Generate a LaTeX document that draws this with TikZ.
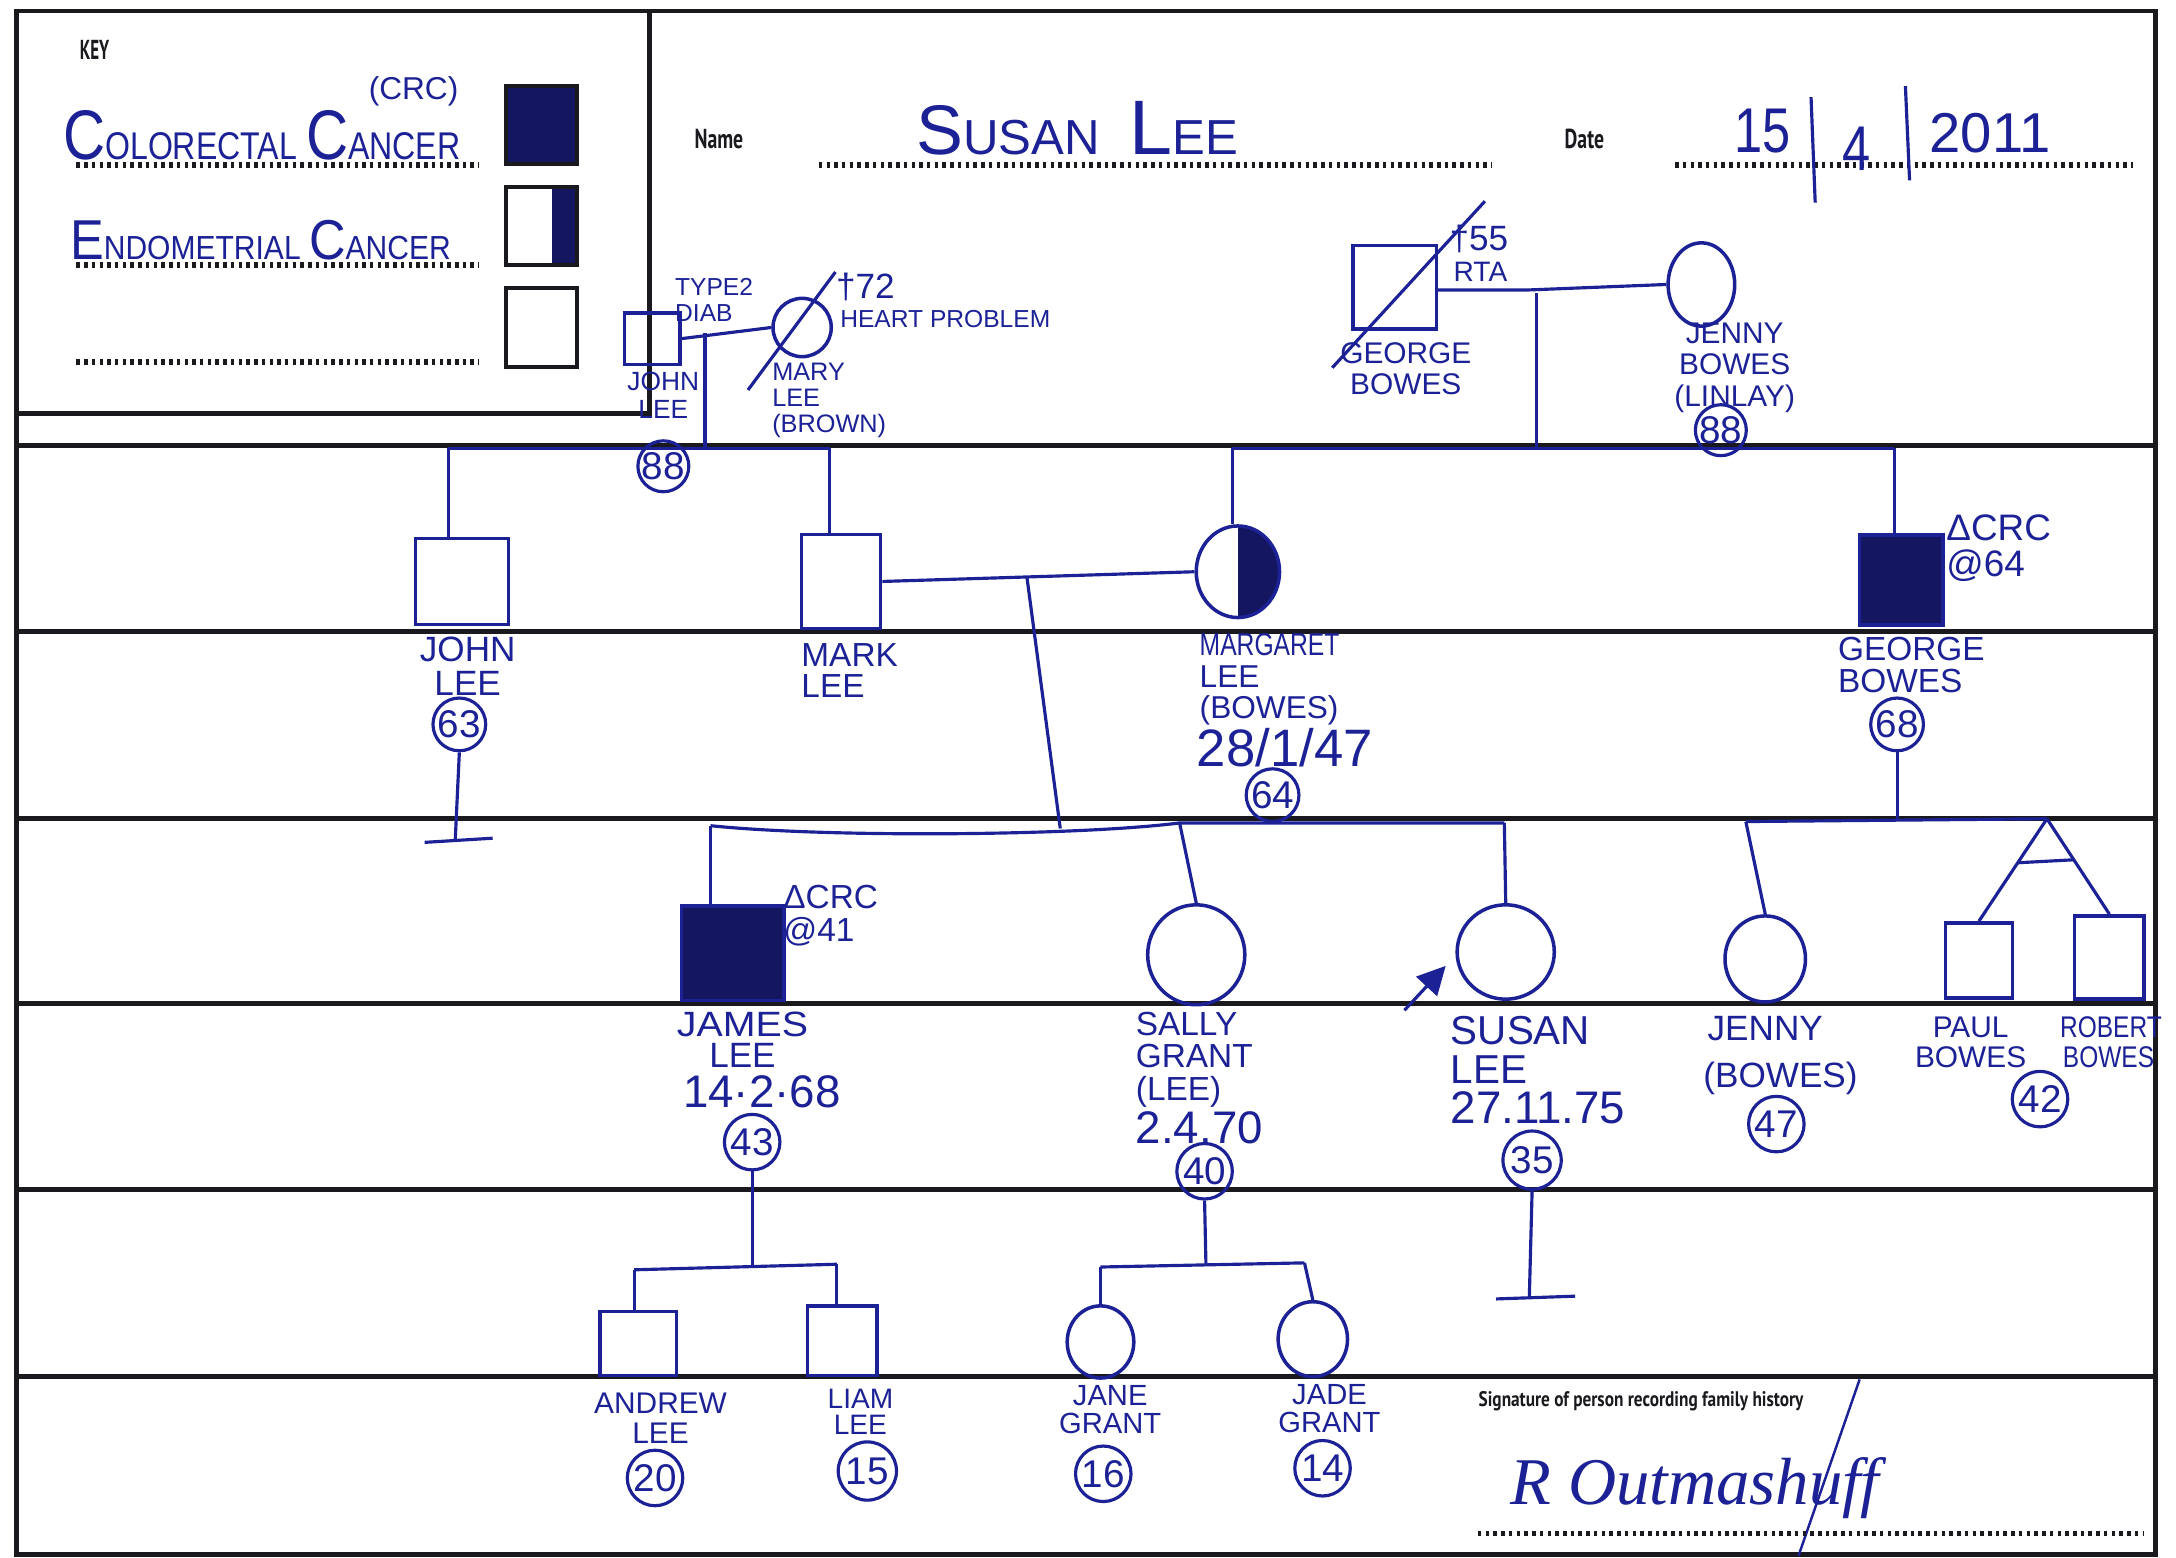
\documentclass[tikz,border=0pt]{standalone}
\usepackage{graphicx}
\usepackage{fontspec}
\setmainfont{Liberation Sans}
\newfontfamily\hand{Liberation Sans}
\newfontfamily\prnt{PT Sans}
\newfontfamily\sig{Liberation Serif}
\usetikzlibrary{shapes.geometric,arrows.meta,calc}
\definecolor{ink}{RGB}{28,34,150}
\definecolor{inkdark}{RGB}{20,22,95}
\definecolor{framec}{RGB}{25,25,30}
\def\pxu{0.013878cm}
\tikzset{
  rule/.style={draw=framec, line width=1.3pt},
  dotline/.style={draw=framec, line width=1.6pt, dash pattern=on 1pt off 1.2pt},
  lnk/.style={draw=ink, line width=0.9pt},
  sqbox/.style 2 args={rectangle, draw=ink, line width=1pt, inner sep=0pt, minimum width=#1*\pxu, minimum height=#2*\pxu},
  ovbox/.style 2 args={ellipse, draw=ink, line width=1pt, inner sep=0pt, minimum width=#1*\pxu, minimum height=#2*\pxu},
  aff/.style={fill=inkdark},
  keybox/.style={rectangle, draw=framec, line width=1.2pt, inner sep=0pt, minimum width=51*\pxu, minimum height=56*\pxu},
  age/.style={circle, draw=ink, line width=0.9pt, inner sep=0pt, minimum size=#1*\pxu, text=ink, font=\hand\fontsize{11}{11}\selectfont},
  lbl/.style 2 args={text=ink, inner sep=0pt, align=center, font=\hand\fontsize{#1}{#2}\selectfont},
  prt/.style={text=framec, inner sep=0pt, font=\prnt\bfseries\fontsize{7.8}{8}\selectfont},
  halfright/.style={path picture={\fill[inkdark] (path picture bounding box.north) rectangle (path picture bounding box.south east);}},
}
\begin{document}
\begin{tikzpicture}[x=0.013878cm, y=-0.013878cm]
\useasboundingbox (0,0) rectangle (1568,1122);
\fill[white] (0,0) rectangle (1568,1122);

% ---------- form frame ----------
\draw[rule] (12,8) rectangle (1553,1120);
\draw[rule] (468,8) -- (468,298) -- (12,298);
\foreach \yy in {321,455,590,723,857,992} \draw[rule] (12,\yy) -- (1553,\yy);

% ---------- key ----------
\node[prt, anchor=west] (keyt) at (57,36) {\scalebox{0.62}[1]{KEY}};
\node[text=ink, anchor=base west, inner sep=0pt] (crct) at (45,115) {\hand\scalebox{0.83}[1]{\fontsize{20}{20}\selectfont C\fontsize{11}{11}\selectfont OLORECTAL \fontsize{20}{20}\selectfont C\fontsize{11}{11}\selectfont ANCER}};
\node[lbl={9}{9}] (crcab) at (298,66) {(CRC)};
\node[text=ink, anchor=base west, inner sep=0pt] (endt) at (50,187) {\hand\scalebox{0.9}[1]{\fontsize{16}{16}\selectfont E\fontsize{9.5}{9.5}\selectfont NDOMETRIAL \fontsize{16}{16}\selectfont C\fontsize{9.5}{9.5}\selectfont ANCER}};
\draw[dotline] (55,119) -- (345,119);
\draw[dotline] (55,191) -- (345,191);
\draw[dotline] (55,261) -- (345,261);
\node[keybox, aff] (kb1) at (390,90) {};
\node[keybox, path picture={\fill[inkdark] ($(path picture bounding box.south east)!0.35!(path picture bounding box.south west)$) rectangle (path picture bounding box.north east);}] (kb2) at (390,163) {};
\node[keybox, minimum height=57*\pxu] (kb3) at (390,236) {};

% ---------- name / date ----------
\node[prt, anchor=west] (namel) at (500,100) {\scalebox{0.72}[1]{Name}};
\draw[dotline] (590,119) -- (1075,119);
\node[text=ink, anchor=base west, inner sep=0pt] (namev) at (660,111) {\hand\fontsize{20}{20}\selectfont S\fontsize{14}{14}\selectfont USAN\hspace{0.6em}\fontsize{22}{22}\selectfont L\fontsize{14}{14}\selectfont EE};
\node[prt, anchor=west] (datel) at (1127,100) {\scalebox{0.72}[1]{Date}};
\draw[dotline] (1207,119) -- (1537,119);
\node[text=ink, anchor=base, inner sep=0pt] (d15) at (1270,110) {\hand\fontsize{18}{18}\selectfont\scalebox{0.8}[1]{15}};
\node[text=ink, anchor=base, inner sep=0pt] (d4) at (1338,123) {\hand\fontsize{18}{18}\selectfont\scalebox{0.8}[1]{4}};
\node[text=ink, anchor=base west, inner sep=0pt] (d2011) at (1390,110) {\hand\fontsize{16}{16}\selectfont 2011};
\coordinate (b1t) at (1305,70); \coordinate (b1b) at (1308,146);
\coordinate (b2t) at (1373,62); \coordinate (b2b) at (1376,130);
\draw[lnk] (b1t) -- (b1b);
\draw[lnk] (b2t) -- (b2b);

% ---------- generation I ----------
\node[sqbox={40}{37}] (jls) at (470,244) {};
\node[ovbox={42}{42}] (mls) at (578,236) {};
\node[sqbox={60}{60}] (gbs) at (1005,207) {};
\node[ovbox={48}{60}] (jbs) at (1226,205) {};
\coordinate (mlsA) at (539,281); \coordinate (mlsB) at (602,196);
\draw[lnk] (mlsA) -- (mlsB);
\coordinate (gbsA) at (960,265); \coordinate (gbsB) at (1070,145);
\draw[lnk] (gbsA) -- (gbsB);

\node[lbl={7}{7.3}, align=left, anchor=west] (tdiab) at (486,216) {TYPE2\\DIAB};
\node[lbl={10}{10}, anchor=west] (t72) at (602,207) {†72};
\node[lbl={7}{7}, anchor=west] (heart) at (605,230) {HEART PROBLEM};
\node[lbl={7.5}{8}] (jlsn) at (478,285) {JOHN\\LEE};
\node[lbl={7.2}{7.4}, align=left, anchor=north west] (mlsn) at (556,261) {MARY\\LEE\\(BROWN)};
\node[age=35] (a88a) at (478,336) {88};
\node[lbl={10}{10}, anchor=west] (t55) at (1044,172) {†55};
\node[lbl={8}{8}, anchor=west] (rta) at (1047,196) {RTA};
\node[lbl={8.5}{8.8}] (gbsn) at (1013,266) {GEORGE\\BOWES};
\node[lbl={8.5}{9}] (jbsn) at (1250,265) {JENNY\\BOWES\\(LINLAY)};
\node[age=35] (a88b) at (1240,310) {88};

% marriages and descents, generation I
\draw[lnk] (jls.east) -- (mls.west);
\coordinate (dL) at (508,240); \coordinate (dLb) at (508,322);
\draw[lnk] (dL) -- (dLb);
\coordinate (gbsE) at (1100,209);
\draw[lnk] (gbs.east |- gbsE) -- (gbsE) -- (jbs.west);
\coordinate (dB) at (1107,211); \coordinate (dBb) at (1107,322);
\draw[lnk] (dB) -- (dBb);

% ---------- generation II ----------
\node[sqbox={67}{62}] (jl2) at (333,419) {};
\node[sqbox={57}{68}] (ml2) at (606,419) {};
\node[ovbox={60}{66}, halfright] (mg2) at (892,412) {};
\node[sqbox={60}{65}, aff] (gb2) at (1370,418) {};

\coordinate (sL1) at (323,323); \coordinate (sL2) at (598,323);
\draw[lnk] (sL1) -- (sL2);
\draw[lnk] (sL1) -- (sL1 |- jl2.north);
\draw[lnk] (sL2) -- (sL2 |- ml2.north);
\coordinate (sB1) at (888,323); \coordinate (sB2) at (1365,323);
\draw[lnk] (sB1) -- (sB2);
\draw[lnk] (sB1) -- (sB1 |- mg2.north);
\draw[lnk] (sB2) -- (sB2 |- gb2.north);

\draw[lnk] (ml2.east) -- (mg2.west);
\coordinate (dM) at (740,416); \coordinate (dMb) at (764,597);
\draw[lnk] (dM) -- (dMb);

\node[lbl={10}{9.8}] (jl2n) at (337,480) {JOHN\\LEE};
\node[age=38] (a63) at (331,522) {63};
\coordinate (nb1) at (328,606); \coordinate (nb1a) at (306,607); \coordinate (nb1b) at (355,604);
\draw[lnk] (a63.south) -- (nb1);
\draw[lnk] (nb1a) -- (nb1b);
\node[lbl={9.5}{8.8}, align=left, anchor=west] (ml2n) at (577,483) {MARK\\LEE};
\node[lbl={9}{9}, align=left, anchor=north west] (mg2n) at (864,456) {\scalebox{0.78}[1]{MARGARET}\\LEE\\(BOWES)};
\node[lbl={15}{15}, anchor=west] (mg2d) at (862,539) {28/1/47};
\node[age=38] (a64) at (917,573) {64};
\node[lbl={10.5}{10.5}, align=left, anchor=west] (gb2c) at (1402,395) {ΔCRC\\@64};
\node[lbl={9.5}{9.2}, align=left, anchor=west] (gb2n) at (1324,479) {GEORGE\\BOWES};
\node[age=38] (a68) at (1367,522) {68};
\coordinate (gbk) at (1367,591);
\draw[lnk] (a68.south) -- (gbk);

% ---------- generation III ----------
\node[sqbox={74}{68}, aff] (jm3) at (528,687) {};
\node[ovbox={70}{72}] (sl3) at (862,688) {};
\node[ovbox={70}{68}] (su3) at (1085,686) {};
\node[ovbox={58}{62}] (jy3) at (1272,691) {};
\node[sqbox={48}{54}] (pb3) at (1426,692) {};
\node[sqbox={50}{60}] (rb3) at (1520,690) {};

\coordinate (sC1) at (512,595); \coordinate (sC2) at (850,593); \coordinate (sC3) at (1084,593);
\draw[lnk] (sC1) .. controls (600,604) and (780,602) .. (sC2) -- (sC3);
\draw[lnk] (sC1) -- (sC1 |- jm3.north);
\draw[lnk] (sC2) -- (sl3.north);
\draw[lnk] (sC3) -- (su3.north);
\coordinate (sD1) at (1258,592); \coordinate (sD2) at (1475,590);
\draw[lnk] (sD1) -- (sD2);
\draw[lnk] (sD1) -- (jy3.north);
\draw[lnk] (sD2) -- (pb3.north);
\draw[lnk] (sD2) -- (rb3.north);
\path (sD2) -- (pb3.north) coordinate[pos=0.43] (tw1);
\path (sD2) -- (rb3.north) coordinate[pos=0.43] (tw2);
\draw[lnk] (tw1) -- (tw2);

\coordinate (pa) at (1012,728);
\draw[lnk, -{Triangle[length=8pt,width=8pt]}] (pa) -- ($(su3.west)+(-7,10)$);

\node[lbl={9.5}{9.4}, align=left, anchor=west] (jm3c) at (564,660) {ΔCRC\\@41};
\node[lbl={10}{8.9}] (jm3n) at (535,749) {\scalebox{1.12}[1]{JAMES}\\LEE};
\node[lbl={13}{13}] (jm3d) at (549,787) {14·2·68};
\node[age=40] (a43) at (542,823) {43};
\node[lbl={9.5}{9.2}, align=left, anchor=north west] (sl3n) at (818,729) {SALLY\\GRANT\\(LEE)};
\node[lbl={13}{13}, anchor=west] (sl3d) at (818,813) {2.4.70};
\node[age=40] (a40) at (868,844) {40};
\node[lbl={11.5}{11}, align=left, anchor=north west] (su3n) at (1045,732) {SUSAN\\LEE};
\node[lbl={13}{13}, anchor=west] (su3d) at (1045,798) {27.11.75};
\node[age=42] (a35) at (1104,836) {35};
\node[lbl={10}{10}] (jy3n) at (1272,741) {JENNY};
\node[lbl={10}{10}] (jy3m) at (1283,777) {(BOWES)};
\node[age=40] (a47) at (1280,810) {47};
\node[lbl={8.5}{8.7}] (pb3n) at (1420,751) {PAUL\\BOWES};
\node[lbl={8.5}{8.5}, anchor=west] (rb3n) at (1484,740) {\scalebox{0.82}[1]{ROBERT}};
\node[lbl={8.5}{8.5}, anchor=west] (rb3m) at (1486,762) {\scalebox{0.82}[1]{BOWES}};
\node[age=40] (a42) at (1470,792) {42};

\coordinate (nb2) at (1102,935); \coordinate (nb2a) at (1078,936); \coordinate (nb2b) at (1135,934);
\draw[lnk] (a35.south) -- (nb2);
\draw[lnk] (nb2a) -- (nb2b);

% ---------- generation IV ----------
\node[sqbox={55}{46}] (an4) at (460,968) {};
\node[sqbox={50}{50}] (li4) at (607,966) {};
\node[ovbox={48}{52}] (jn4) at (793,967) {};
\node[ovbox={50}{54}] (jd4) at (946,965) {};

\coordinate (jc) at (542,913); \coordinate (jc1) at (457,915); \coordinate (jc2) at (603,911);
\draw[lnk] (a43.south) -- (jc);
\draw[lnk] (jc1) -- (jc2);
\draw[lnk] (jc1) -- (jc1 |- an4.north);
\draw[lnk] (jc2) -- (jc2 |- li4.north);
\coordinate (sc) at (869,912); \coordinate (sc1) at (793,913); \coordinate (sc2) at (940,910);
\draw[lnk] (a40.south) -- (sc);
\draw[lnk] (sc1) -- (sc2);
\draw[lnk] (sc1) -- (jn4.north);
\draw[lnk] (sc2) -- (jd4.north);

\node[lbl={8.5}{8.4}] (an4n) at (476,1022) {ANDREW\\LEE};
\node[age=40] (a20) at (472,1065) {20};
\node[lbl={8}{7.4}] (li4n) at (620,1017) {LIAM\\LEE};
\node[age=42] (a15) at (625,1060) {15};
\node[lbl={8.3}{8}] (jn4n) at (800,1016) {JANE\\GRANT};
\node[age=40] (a16) at (795,1062) {16};
\node[lbl={8.3}{8}] (jd4n) at (958,1015) {JADE\\GRANT};
\node[age=40] (a14) at (953,1058) {14};

% ---------- signature ----------
\node[prt, anchor=west] (sigl) at (1065,1010) {\scalebox{0.82}[1]{\fontsize{6}{6}\selectfont Signature of person recording family history}};
\node[text=ink, anchor=base west, inner sep=0pt] (sigv) at (1088,1084) {\sig\itshape\fontsize{19}{19}\selectfont R Outmashuff};
\coordinate (sg1) at (1296,1121); \coordinate (sg2) at (1340,994);
\draw[ink, line width=0.7pt] (sg1) -- (sg2);
\draw[dotline] (1065,1105) -- (1545,1105);
\end{tikzpicture}
\end{document}
